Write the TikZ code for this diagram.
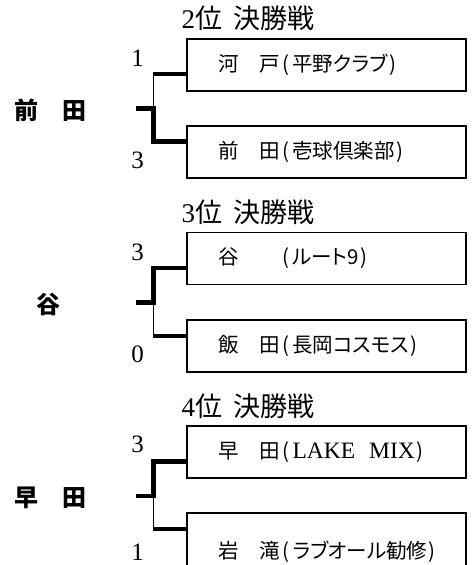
\documentclass[tikz,border=0pt]{standalone}
\usepackage{fontspec}
\newfontfamily\jpfont{Noto Sans CJK JP}
\newfontfamily\jppfont[RawFeature=+palt]{Noto Sans CJK JP}
\newfontfamily\latinserif{Liberation Serif}
\usetikzlibrary{calc}
\newcommand\myLP{\makebox[13pt][c]{(}}
\newcommand\myRP{\makebox[10pt][c]{)}}
\tikzset{
  teambox/.style={draw, line width=1.7pt, minimum width=279pt, minimum height=52pt,
    text width=217pt, align=left, inner xsep=31pt, inner ysep=0pt,
    font=\jpfont\fontsize{20.5}{24}\selectfont},
  roundttl/.style={anchor=west, inner sep=0pt, font=\jpfont\fontsize{27}{32}\selectfont},
  scorelbl/.style={inner sep=0pt, font=\latinserif\fontsize{25}{30}\selectfont},
  winnername/.style={inner sep=0pt, font=\jpfont\bfseries\fontsize{24}{28}\selectfont},
  winline/.style={line width=4.5pt},
  loseline/.style={line width=1.8pt},
  armline/.style={line width=4pt, shorten <=-0.9pt},
}
\begin{document}
\begin{tikzpicture}[x=1pt,y=-1pt]
\useasboundingbox (0,0) rectangle (472,565);
% ---- group 1
\node[roundttl] (t1) at (181.5,18) {{\latinserif 2}位\hspace{11pt}決勝戦};
\node[teambox] (b1a) at (326.5,65) {河　戸\myLP{\jppfont 平野クラブ}\myRP};
\node[teambox] (b1b) at (326.5,152) {前　田\myLP{\jppfont 壱球倶楽部}\myRP};
\node[winnername] (n1) at (50,110) {前　田};
\node[scorelbl] (s1a) at (137.5,58) {1};
\node[scorelbl] (s1b) at (137.5,160) {3};
\coordinate (st1) at (136,108.5);
\coordinate (j1) at (153.5,108.5);
\coordinate (ua1) at ($(b1a.south west)+(0,-17.5)$);
\coordinate (ub1) at ($(b1b.north west)+(0,16.5)$);
\draw[winline] (st1) -- (j1) -- (j1 |- ub1) -- (ub1);
\draw[loseline] (j1) -- (j1 |- ua1);
\draw[armline] (j1 |- ua1) -- (ua1);
% ---- group 2
\node[roundttl] (t2) at (181.5,212) {{\latinserif 3}位\hspace{11pt}決勝戦};
\node[teambox] (b2a) at (326.5,258.5) {谷　　\myLP{\jppfont ルート9}\myRP};
\node[teambox] (b2b) at (326.5,346) {飯　田\myLP{\jppfont 長岡コスモス}\myRP};
\node[winnername] (n2) at (48,304) {谷};
\node[scorelbl] (s2a) at (137.5,252) {3};
\node[scorelbl] (s2b) at (137.5,354) {0};
\coordinate (st2) at (136,302.5);
\coordinate (j2) at (153.5,302.5);
\coordinate (ua2) at ($(b2a.south west)+(0,-17.5)$);
\coordinate (ub2) at ($(b2b.north west)+(0,16.5)$);
\draw[winline] (st2) -- (j2) -- (j2 |- ua2) -- (ua2);
\draw[loseline] (j2) -- (j2 |- ub2);
\draw[armline] (j2 |- ub2) -- (ub2);
% ---- group 3
\node[roundttl] (t3) at (181.5,406) {{\latinserif 4}位\hspace{11pt}決勝戦};
\node[teambox] (b3a) at (326.5,452) {早　田\myLP{\latinserif\fontsize{23.5}{27}\selectfont LAKE\hspace{14pt}MIX}\myRP};
\node[teambox, minimum height=78pt] (b3b) at (326.5,552) {岩　滝\myLP{\jppfont ラブオール勧修}\myRP};
\node[winnername] (n3) at (50,498) {早　田};
\node[scorelbl] (s3a) at (137.5,444) {3};
\node[scorelbl] (s3b) at (137.5,552) {1};
\coordinate (st3) at (136,496);
\coordinate (j3) at (153.5,496);
\coordinate (ua3) at ($(b3a.south west)+(0,-17.5)$);
\coordinate (ub3) at ($(b3b.north west)+(0,17)$);
\draw[winline] (st3) -- (j3) -- (j3 |- ua3) -- (ua3);
\draw[loseline] (j3) -- (j3 |- ub3);
\draw[armline] (j3 |- ub3) -- (ub3);
\end{tikzpicture}
\end{document}
